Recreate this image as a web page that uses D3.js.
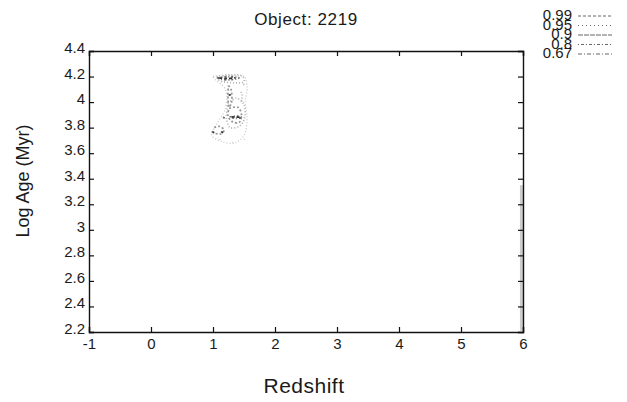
<!DOCTYPE html>
<html>
<head>
<meta charset="utf-8">
<script src="https://cdn.jsdelivr.net/npm/d3@7"></script>
<style>
  body { margin: 0; background: #fff; }
  text { font-family: "Liberation Sans", Arial, Helvetica, sans-serif; fill: #1a1a1a; }
</style>
</head>
<body>
<script>
// confidence levels and their dash styles
var levels = ["0.99", "0.95", "0.9", "0.8", "0.67"];
var dashes = ["1,2", "1,2", "2,2", "2,2,1,2", "3,2"];
var greys  = ["#c8c8c8", "#b0b0b0", "#959595", "#666", "#333"];
var legendDash = ["3,2", "1,3", "5,1", "1,2,3,2", "4,2,1,2"];

var xTicks = [-1, 0, 1, 2, 3, 4, 5, 6];
var yTicks = [2.2, 2.4, 2.6, 2.8, 3, 3.2, 3.4, 3.6, 3.8, 4, 4.2, 4.4];

// contour fragments [redshift, log age] per level
var c99 = [
  [[1.0,4.2],[1.25,4.215],[1.5,4.2],[1.55,4.12],[1.52,4.0],[1.55,3.86],[1.5,3.74],[1.35,3.68],[1.15,3.69],[0.98,3.74],[1.05,3.82],[1.2,3.95],[1.2,4.1],[1.05,4.17],[1.0,4.2]],
  [[1.11,3.71],[1.13,3.69]],
  [[1.31,3.69],[1.33,3.67]],
  [[1.5,3.71],[1.52,3.7]]
];
// 0.99 contour running along the upper redshift edge
var edge99 = [[5.975,3.35],[5.975,2.21]];
var c95 = [
  [[1.06,4.2],[1.3,4.21],[1.48,4.2],[1.5,4.16],[1.36,4.15],[1.1,4.17],[1.06,4.2]],
  [[1.24,3.99],[1.38,4.03],[1.5,3.98],[1.5,3.86],[1.42,3.81],[1.28,3.8],[1.22,3.86],[1.24,3.99]],
  [[1.45,4.08],[1.47,4.06],[1.46,4.0]],
  [[1.49,4.14],[1.52,4.13]]
];
var c90 = [
  [[1.26,3.95],[1.4,3.96],[1.46,3.9],[1.42,3.84],[1.3,3.85],[1.24,3.9],[1.26,3.95]],
  [[1.25,4.13],[1.29,4.1],[1.3,4.0],[1.26,3.96],[1.24,4.05],[1.25,4.13]],
  [[1.02,3.8],[1.1,3.81],[1.18,3.78],[1.12,3.75],[1.0,3.76]]
];
var c80 = [
  [[1.07,4.19],[1.25,4.2],[1.42,4.19],[1.3,4.175],[1.12,4.18],[1.07,4.19]],
  [[1.27,3.885],[1.4,3.89],[1.47,3.88],[1.36,3.872],[1.27,3.885]],
  [[1.16,3.88],[1.22,3.87]],
  [[1.25,4.06],[1.29,4.05]],
  [[0.98,3.77],[1.02,3.76]],
  [[1.13,3.77],[1.17,3.76]]
];
var c67 = [
  [[1.1,4.19],[1.22,4.185],[1.36,4.19]],
  [[1.3,3.884],[1.44,3.882]],
  [[1.0,3.765],[1.02,3.76]],
  [[1.14,3.765],[1.16,3.76]],
  [[1.27,4.06],[1.28,4.05]]
];
var contours = [c99, c95, c90, c80, c67];

var width = 627, height = 402;
var margin = {top: 51, right: 104, bottom: 70, left: 89};

var svg = d3.select("body").append("svg")
  .attr("width", width)
  .attr("height", height);

var w = width - margin.left - margin.right;
var h = height - margin.top - margin.bottom;

var g = svg.append("g")
  .attr("transform", "translate(" + margin.left + "," + margin.top + ")");

var x = d3.scaleLinear().domain([-1, 6]).range([0, w]);
var y = d3.scaleLinear().domain([2.2, 4.4]).range([h, 0]);

var line = d3.line()
  .x(function(d) { return x(d[0]); })
  .y(function(d) { return y(d[1]); })
  .curve(d3.curveCatmullRom);

// grey band at the right edge, drawn under the axis
g.append("path")
  .datum(edge99)
  .attr("d", line)
  .attr("fill", "none")
  .attr("stroke", "#cdcdcd")
  .attr("stroke-width", 3);

// axes with inward ticks
var gx = g.append("g")
  .attr("transform", "translate(0," + h + ")")
  .call(d3.axisBottom(x).tickValues(xTicks).tickSize(-5).tickPadding(6)
    .tickFormat(function(d) { return String(d); }));
var gxt = g.append("g")
  .call(d3.axisTop(x).tickValues(xTicks).tickSize(-5).tickFormat(""));
var gy = g.append("g")
  .call(d3.axisLeft(y).tickValues(yTicks).tickSize(-5).tickPadding(4)
    .tickFormat(function(d) { return String(+d.toFixed(1)); }));
var gyr = g.append("g")
  .attr("transform", "translate(" + w + ",0)")
  .call(d3.axisRight(y).tickValues(yTicks).tickSize(-5).tickFormat(""));

[gx, gxt, gy, gyr].forEach(function(a) {
  a.selectAll(".domain").attr("stroke", "#111").attr("stroke-width", 1.4);
  a.selectAll(".tick line").attr("stroke", "#111").attr("stroke-width", 1.2);
  a.selectAll(".tick text").style("font-size", "15px").attr("fill", "#1a1a1a");
});
gy.selectAll(".tick text").attr("dy", "0.1em");

contours.forEach(function(c, i) {
  g.selectAll(".c" + i)
    .data(c)
    .enter()
    .append("path")
    .attr("class", "c" + i)
    .attr("d", line)
    .attr("fill", "none")
    .attr("stroke", greys[i])
    .attr("stroke-width", i == 0 ? 1.3 : 1.7)
    .attr("stroke-dasharray", dashes[i]);
});

// titles
svg.append("text")
  .attr("x", 306).attr("y", 25)
  .attr("text-anchor", "middle")
  .style("font-size", "17px")
  .style("letter-spacing", "0.6px")
  .text("Object: 2219");

svg.append("text")
  .attr("x", 304).attr("y", 393)
  .attr("text-anchor", "middle")
  .style("font-size", "21px")
  .style("letter-spacing", "0.5px")
  .text("Redshift");

svg.append("text")
  .attr("transform", "translate(29,181) rotate(-90)")
  .attr("text-anchor", "middle")
  .style("font-size", "18px")
  .text("Log Age (Myr)");

// legend
var leg = svg.append("g").selectAll("g")
  .data(levels)
  .enter()
  .append("g")
  .attr("transform", function(d, i) { return "translate(0," + (15 + i * 9.5) + ")"; });

leg.append("text")
  .attr("x", 572)
  .attr("dy", "0.36em")
  .attr("text-anchor", "end")
  .style("font-size", "15px")
  .text(function(d) { return d; });

leg.append("line")
  .attr("x1", 578).attr("x2", 612)
  .attr("y1", 1).attr("y2", 1)
  .attr("stroke", "#555")
  .attr("stroke-width", 0.9)
  .attr("stroke-dasharray", function(d, i) { return legendDash[i]; });
</script>
</body>
</html>
